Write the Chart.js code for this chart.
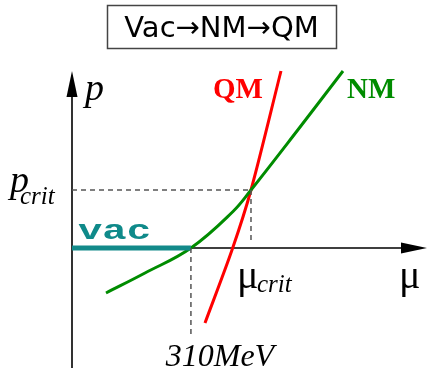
<!DOCTYPE html>
<html>
<head>
<meta charset="utf-8">
<script src="https://cdn.jsdelivr.net/npm/chart.js@4"></script>
<style>
  html, body { margin: 0; padding: 0; background: #fff; }
  canvas { display: block; }
</style>
</head>
<body>
<canvas id="c" width="427" height="371"></canvas>
<script>
// Schematic pressure p versus chemical potential mu (arbitrary units)
const muVac = 33.5;          // vacuum -> nuclear matter onset (310 MeV)
const muCrit = 50.42;        // NM/QM crossing
const pCrit = 19.33;

const vacMu = [0, muVac];
const vacP = [0, 0];

const nmMu = [9.58, 20.56, 33.5, 45.35, 50.42, 63.38, 76.34];
const nmP  = [-15, -8.33, 0, 12.17, 19.33, 39, 59];

const qmMu = [37.46, 45.07, 50.42, 58.87];
const qmP  = [-25, -0.67, 19.33, 59];

const titleText = 'Vac\u2192NM\u2192QM';
const seriesLabels = ['vac', 'NM', 'QM'];
const tickLabels = ['310MeV', 'crit'];
const axisLabels = ['p', '\u03bc'];

const pts = (xs, ys) => xs.map((x, i) => ({ x, y: ys[i] }));

const dashStyle = { borderColor: '#555', borderWidth: 1.5, borderDash: [5, 4], pointRadius: 0, showLine: true, fill: false };

// arrowed axes through the origin
const axesPlugin = {
  id: 'arrowAxes',
  beforeDatasetsDraw(chart) {
    const { ctx, chartArea, scales } = chart;
    const x0 = scales.x.getPixelForValue(0);
    const y0 = scales.y.getPixelForValue(0);
    const yTop = scales.y.getPixelForValue(59);
    const xRight = chartArea.right;
    ctx.save();
    ctx.strokeStyle = '#000';
    ctx.fillStyle = '#000';
    ctx.lineWidth = 1.6;
    ctx.beginPath();
    ctx.moveTo(x0, chartArea.bottom);
    ctx.lineTo(x0, yTop + 20);
    ctx.moveTo(x0, y0);
    ctx.lineTo(xRight - 20, y0);
    ctx.stroke();
    ctx.beginPath();
    ctx.moveTo(x0, yTop);
    ctx.lineTo(x0 - 5.5, yTop + 26);
    ctx.lineTo(x0 + 5.5, yTop + 26);
    ctx.closePath();
    ctx.fill();
    ctx.beginPath();
    ctx.moveTo(xRight, y0);
    ctx.lineTo(xRight - 26, y0 - 5.5);
    ctx.lineTo(xRight - 26, y0 + 5.5);
    ctx.closePath();
    ctx.fill();
    ctx.restore();
  }
};

// title box and annotations
const textPlugin = {
  id: 'annotations',
  afterDraw(chart) {
    const { ctx, scales } = chart;
    const X = v => scales.x.getPixelForValue(v);
    const Y = v => scales.y.getPixelForValue(v);
    ctx.save();
    ctx.textBaseline = 'alphabetic';

    // title
    ctx.strokeStyle = '#444';
    ctx.lineWidth = 1.5;
    ctx.strokeRect(107.5, 5.5, 229, 43);
    ctx.fillStyle = '#000';
    ctx.font = '29px "DejaVu Sans"';
    ctx.textAlign = 'center';
    ctx.fillText(titleText, 221.5, 37);

    // axis labels
    ctx.textAlign = 'left';
    ctx.font = 'italic 38px "Liberation Serif"';
    ctx.fillText(axisLabels[0], X(0) + 13, 100);
    ctx.font = '40px "Liberation Serif"';
    ctx.fillText(axisLabels[1], 399, 288);

    // p_crit
    ctx.font = 'italic 38px "Liberation Serif"';
    ctx.fillText(axisLabels[0], 10, Y(pCrit) + 2);
    ctx.font = 'italic 25px "Liberation Serif"';
    ctx.fillText(tickLabels[1], 20, Y(pCrit) + 14);

    // mu_crit
    ctx.font = '40px "Liberation Serif"';
    ctx.fillText(axisLabels[1], X(muCrit) - 14, 288);
    ctx.font = 'italic 25px "Liberation Serif"';
    ctx.fillText(tickLabels[1], X(muCrit) + 6, 292);

    // 310MeV
    ctx.font = 'italic 32px "Liberation Serif"';
    ctx.textAlign = 'center';
    ctx.fillText(tickLabels[0], X(muVac) + 29, 366);

    // series labels
    ctx.textAlign = 'left';
    ctx.font = 'bold 29px "Liberation Serif"';
    ctx.fillStyle = '#ff0000';
    ctx.fillText(seriesLabels[2], 213, 98);
    ctx.fillStyle = '#008c00';
    ctx.fillText(seriesLabels[1], 347, 98);

    ctx.fillStyle = '#0f8a8a';
    ctx.font = 'bold 28px "Liberation Mono"';
    ctx.translate(78, 239);
    ctx.scale(1.45, 1);
    ctx.fillText(seriesLabels[0], 0, 0);
    ctx.restore();
  }
};

new Chart(document.getElementById('c'), {
  type: 'scatter',
  data: {
    datasets: [
      { ...dashStyle, data: pts([0, muCrit], [pCrit, pCrit]) },
      { ...dashStyle, data: pts([muCrit, muCrit], [pCrit, 1.5]) },
      { ...dashStyle, data: pts([muVac, muVac], [0, -30]) },
      { label: seriesLabels[0], data: pts(vacMu, vacP), showLine: true, borderColor: '#128a8a', borderWidth: 5, pointRadius: 0, borderCapStyle: 'butt' },
      { label: seriesLabels[1], data: pts(nmMu, nmP), showLine: true, borderColor: '#008c00', borderWidth: 3, pointRadius: 0, tension: 0.4 },
      { label: seriesLabels[2], data: pts(qmMu, qmP), showLine: true, borderColor: '#ff0000', borderWidth: 3, pointRadius: 0, tension: 0.3 }
    ]
  },
  options: {
    responsive: false,
    animation: false,
    events: [],
    layout: { padding: { left: 72, right: 0, top: 68, bottom: 3 } },
    plugins: { legend: { display: false }, tooltip: { enabled: false }, title: { display: false } },
    scales: {
      x: { type: 'linear', min: 0, max: 100, display: false },
      y: { type: 'linear', min: -40, max: 60, display: false }
    }
  },
  plugins: [axesPlugin, textPlugin]
});
</script>
</body>
</html>
